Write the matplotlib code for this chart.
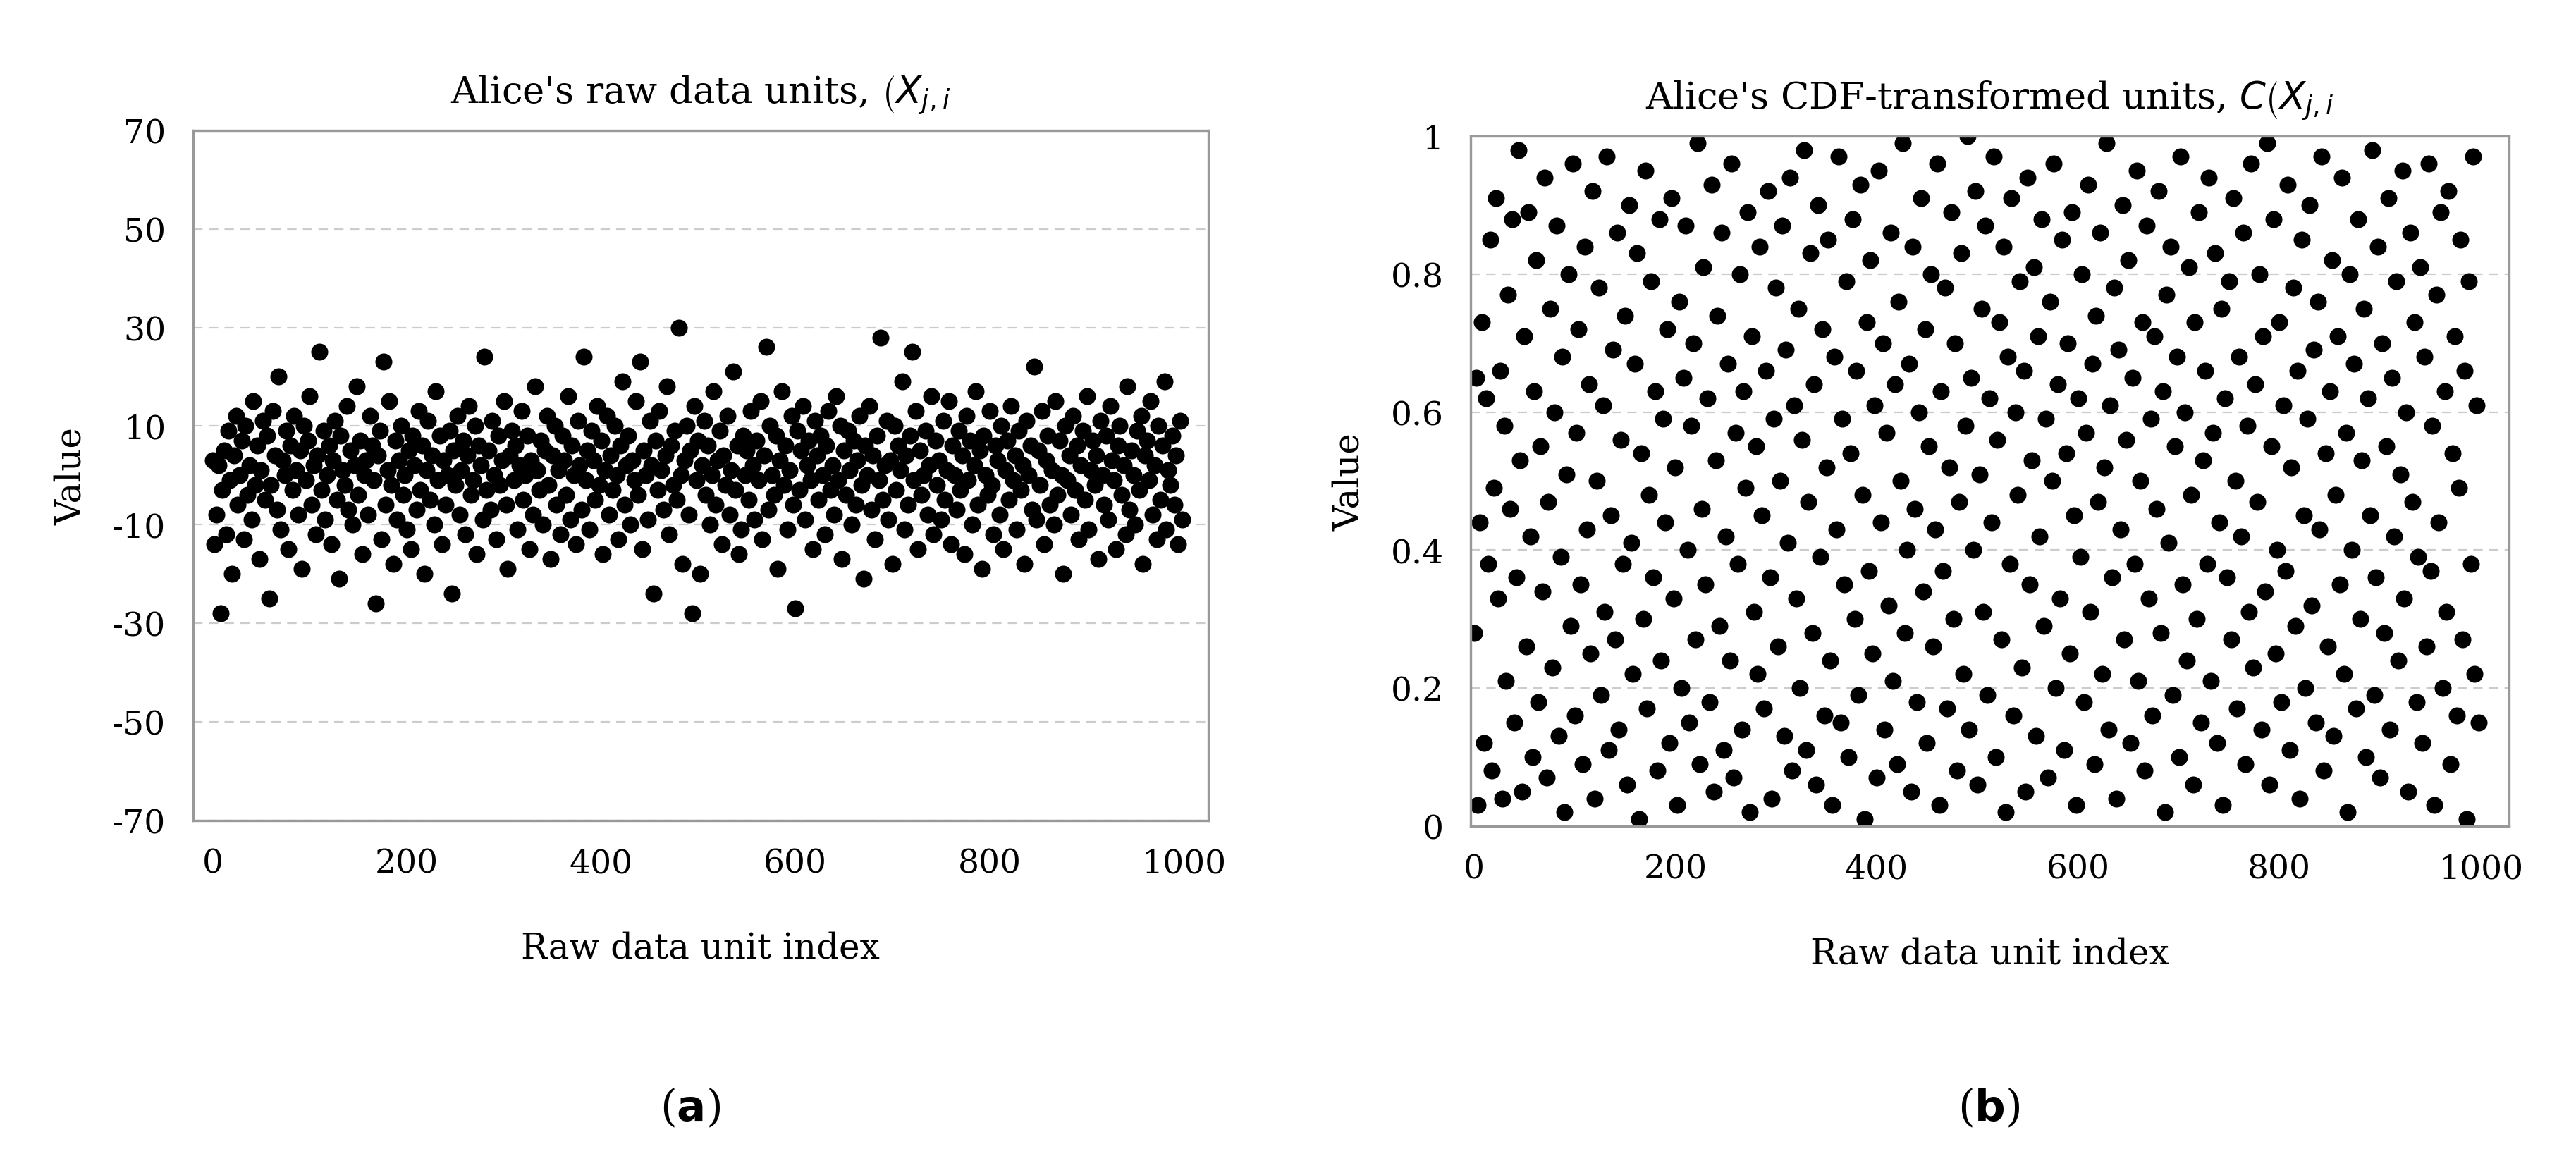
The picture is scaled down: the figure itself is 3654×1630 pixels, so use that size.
import matplotlib
matplotlib.use("Agg")
import matplotlib.pyplot as plt
import numpy as np

plt.rcParams['font.family'] = ['DejaVu Serif']
plt.rcParams['axes.unicode_minus'] = False

# estimated values, every second raw data unit
raw_vals = [
 3,-14,-8,2,-28,-3,5,-12,9,-1,-20,4,12,-6,0,7,-13,10,-4,2,-9,15,-2,6,-17,
 1,11,-5,8,-25,-2,13,4,-7,20,-11,3,0,9,-15,6,-3,12,1,-8,5,-19,10,-1,7,
 16,-6,2,-12,4,25,-3,9,-9,0,6,-14,3,11,-5,-21,8,1,-2,14,-7,5,-10,2,18,
 -4,7,-16,0,3,-8,12,6,-1,-26,4,9,-13,23,-6,1,15,-2,-18,7,-9,3,10,-4,0,
 -11,5,-15,8,2,-7,13,-3,6,-20,1,11,-5,4,-10,17,-1,8,-14,3,-6,0,9,-24,5,
 -2,12,-8,1,7,-12,4,14,-4,-1,10,-16,6,2,-9,24,-3,5,-7,11,0,-13,8,-2,3,
 15,-6,-19,4,9,-1,6,-11,2,13,-5,0,8,-15,3,-8,18,1,-3,7,-10,5,12,-2,-17,
 4,10,-6,1,-12,8,3,-4,16,-9,6,0,-14,11,2,-7,24,-1,5,-11,9,3,-5,14,-2,
 7,-16,1,12,-8,4,-3,10,0,-13,6,19,-6,2,8,-10,3,-1,15,-4,23,-15,5,0,-9,
 11,2,-24,7,-3,13,1,-7,4,18,-12,6,-2,9,-5,30,0,-18,3,10,-8,5,-28,14,-1,
 7,-20,2,11,-4,6,-10,0,17,-6,3,9,-14,4,-2,12,-8,1,21,-3,6,-16,-11,8,0,
 5,-5,13,2,-9,7,-1,15,-13,4,26,-7,10,0,-4,8,-19,3,17,-2,6,-11,1,12,-6,
 -27,9,-3,5,14,-9,2,7,-1,-15,11,4,-5,8,0,-12,6,13,-3,2,-8,16,-1,10,-17,
 5,-4,9,1,-10,7,-6,3,12,-2,-21,6,0,14,-7,4,-13,8,-1,28,-5,2,11,-9,3,
 -18,10,-3,6,1,19,-11,4,-6,8,25,-1,13,-15,5,-4,0,9,-8,2,16,-12,7,-2,3,
 -9,11,-5,1,15,-14,6,0,-7,9,-3,4,-16,12,-1,7,-10,2,17,-6,5,-19,8,0,-4,
 13,-2,-12,6,3,-8,10,-15,1,7,-5,14,-1,4,-11,9,-3,2,-18,11,0,6,-7,22,-9,
 5,-2,13,-14,3,8,-6,1,-10,15,-4,7,0,-20,10,-1,4,-8,12,-3,6,-13,2,9,-5,
 16,-11,1,7,-2,4,-17,11,0,-6,8,-9,14,3,-1,-15,6,10,-4,2,-12,18,-7,5,0,
 -10,9,-3,12,-18,4,7,-1,15,-8,2,-13,10,-5,6,19,-11,1,-2,8,-6,4,-14,11,-9,
]

cdf_vals = [
 28,65,3,44,73,12,62,38,85,8,49,91,33,66,4,58,21,77,46,88,15,36,98,53,5,
 71,26,89,42,10,63,82,18,55,34,94,7,47,75,23,60,87,13,39,68,2,51,80,29,96,
 16,57,72,35,9,84,43,64,25,92,4,50,78,19,61,31,97,11,45,69,27,86,14,56,38,
 74,6,90,41,22,67,83,1,54,30,95,17,48,79,36,63,8,88,24,59,44,72,12,91,33,
 52,3,76,20,65,87,40,15,58,70,27,99,9,46,81,35,62,18,93,5,53,74,29,86,11,
 42,67,24,96,7,57,38,80,14,63,49,89,2,71,31,55,22,84,45,17,66,92,36,4,59,
 78,26,50,87,13,69,41,94,8,61,33,75,20,56,98,11,47,83,28,64,6,90,39,72,16,
 52,85,24,3,68,43,97,15,59,35,79,10,54,88,30,66,19,93,48,1,73,37,82,25,61,
 7,95,44,70,14,57,32,86,21,64,9,76,50,99,28,40,67,5,84,46,18,60,91,34,72,
 12,55,80,26,43,96,3,63,37,78,17,52,89,30,70,8,47,83,22,58,100,14,65,40,92,
 6,51,75,31,87,19,62,44,97,10,56,73,27,84,2,68,38,91,16,60,48,79,23,66,5,
 94,35,53,81,13,71,42,88,29,59,7,76,50,96,20,64,33,85,11,54,70,25,89,45,3,
 62,39,80,18,57,93,31,67,9,74,47,86,22,52,99,14,61,36,78,4,69,43,90,27,56,
 82,12,65,38,95,21,50,73,8,87,33,59,16,71,46,92,28,63,2,77,41,84,19,55,68,
 10,97,35,60,24,81,48,6,73,30,89,15,53,66,38,94,21,57,83,12,44,75,3,62,36,
 79,27,91,50,17,68,42,86,9,58,31,96,23,64,47,80,14,71,34,99,6,55,88,25,40,
 73,18,61,37,93,11,52,78,29,66,4,85,45,20,59,90,32,69,15,76,43,97,8,54,26,
 63,82,13,48,71,35,94,22,57,2,80,40,67,17,88,30,53,75,10,62,45,98,19,36,84,
 7,70,28,55,91,14,65,42,79,24,51,95,33,60,5,86,47,73,18,39,81,12,68,26,96,
 37,58,3,77,44,89,20,63,31,92,9,54,71,16,49,85,27,66,1,79,38,97,22,61,15,
]

raw_vals = np.array(raw_vals)
cdf_vals = np.array(cdf_vals) / 100.0
idx = np.arange(len(raw_vals)) * 2

fig = plt.figure(figsize=(3654 / 200, 1631 / 200), dpi=200)
ax1 = fig.add_axes([0.075, 0.286, 0.394, 0.600])
ax2 = fig.add_axes([0.571, 0.281, 0.403, 0.600])

for ax in (ax1, ax2):
    ax.set_axisbelow(True)
    ax.yaxis.grid(True, color='#cccccc', linestyle=(0, (6, 4)), linewidth=0.8)
    for s in ax.spines.values():
        s.set_color('#999999')
        s.set_linewidth(1.2)
    ax.tick_params(length=0, labelsize=17, pad=14)
    ax.set_xticks([0, 200, 400, 600, 800, 1000])
    ax.set_xlabel('Raw data unit index', fontsize=18, labelpad=26)
    ax.set_ylabel('Value', fontsize=18, labelpad=12)

ax1.scatter(idx, raw_vals, s=75, color='black', linewidths=0)
ax1.set_xlim(-20, 1025)
ax1.set_ylim(-70, 70)
ax1.set_yticks(np.arange(-70, 71, 20))
ax1.set_title(r"Alice's raw data units, $\left(X_{j,i}\right.$", fontsize=19, pad=14)

ax2.scatter(idx, cdf_vals, s=75, color='black', linewidths=0)
ax2.set_xlim(-3, 1028)
ax2.set_ylim(0, 1)
ax2.set_yticks([0, 0.2, 0.4, 0.6, 0.8, 1])
ax2.set_yticklabels(['0', '0.2', '0.4', '0.6', '0.8', '1'])
ax2.set_title(r"Alice's CDF-transformed units, $C\left(X_{j,i}\right.$", fontsize=19, pad=14)

fig.text(0.268, 0.025, r'($\mathbf{a}$)', ha='center', fontsize=22)
fig.text(0.772, 0.025, r'($\mathbf{b}$)', ha='center', fontsize=22)

fig.savefig('out.png', dpi=200)
